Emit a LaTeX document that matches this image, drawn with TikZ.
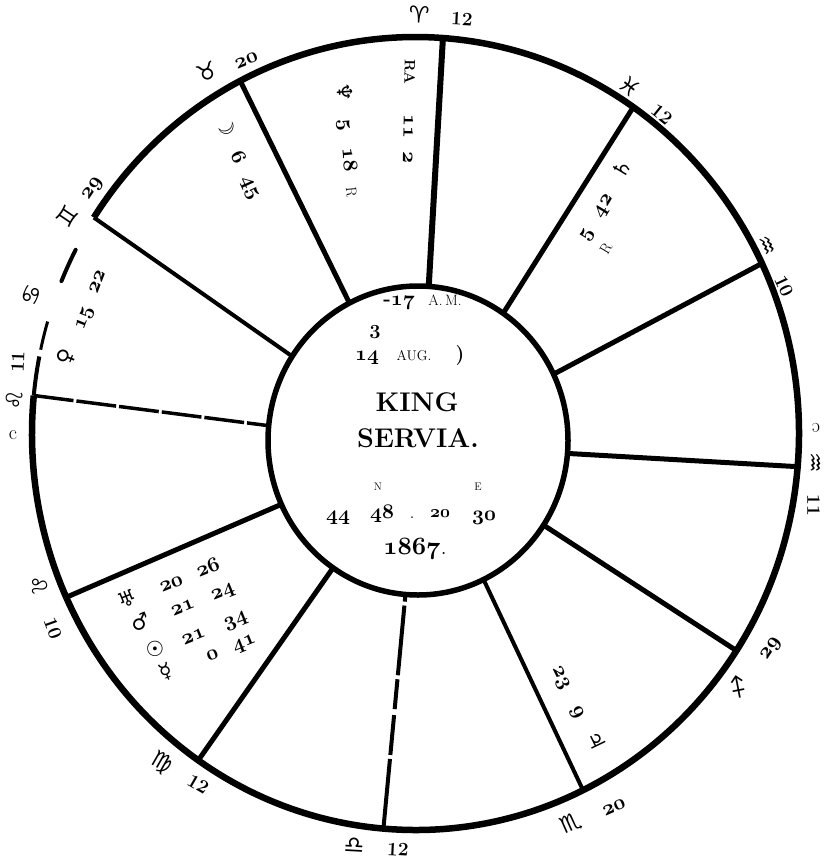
\documentclass[tikz,border=0pt]{standalone}
\usepackage{fontspec}
\newfontfamily\sym{DejaVu Sans}
\usetikzlibrary{calc}
\newcommand\osn[1]{{\usefont{OML}{cmm}{b}{it}#1}}
\newcommand\mk[1]{\makebox[0pt][c]{#1}}
\newcommand\zg[1]{{\sym\fontsize{23}{23}\selectfont #1}}
\newcommand\pgl[1]{{\sym\fontsize{21}{21}\selectfont #1}}
\newcommand\lnum[1]{{\bfseries\fontsize{19}{19}\selectfont #1}}
\newcommand\onum[1]{{\fontsize{20.74}{21}\selectfont\osn{#1}}}
\newcommand\smr[1]{{\fontsize{15}{15}\selectfont #1}}
\tikzset{
  ring/.style={line width=6.5pt},
  innerring/.style={line width=5.5pt},
  spoke/.style={line width=5pt},
  thinspoke/.style={line width=4pt},
  lab/.style={inner sep=0pt},
  big/.style={inner sep=0pt, font=\bfseries\fontsize{27}{27}\selectfont},
}
\begin{document}
\begin{tikzpicture}[x=1pt,y=-1pt]
\useasboundingbox (0,0) rectangle (826,861);
\coordinate (O) at (415.5,433.5);
\coordinate (I) at (418,440.5);
\foreach \n/\a in {1/85.9,2/117.2,3/147.0,4/174.5,5/204.4,6/235.5,7/265.2,8/295.9,9/326.8,10/355.2,11/25.4,12/55.4}{
  \coordinate (o\n) at ($(O)+(\a:383.5pt and 396.5pt)$);
  \coordinate (i\n) at ($(I)+(\a:150pt and 154.5pt)$);
}
% outer ring (broken between cusps 3 and 4)
\draw[ring] (o4) arc[start angle=174.5, end angle=507, x radius=383.5pt, y radius=396.5pt];
\coordinate (b1) at ($(O)+(152.4:383.5pt and 396.5pt)$);
\coordinate (b2) at ($(O)+(163.6:383.5pt and 396.5pt)$);
\coordinate (b3) at ($(O)+(168.8:383.5pt and 396.5pt)$);
\draw[line width=4pt, line cap=round] (b1) arc[start angle=152.4, end angle=157.4, x radius=383.5pt, y radius=396.5pt];
\draw[line width=3pt] (b2) arc[start angle=163.6, end angle=167.8, x radius=383.5pt, y radius=396.5pt];
\draw[line width=4pt] (b3) arc[start angle=168.8, end angle=174.5, x radius=383.5pt, y radius=396.5pt];
% inner ring
\draw[innerring] (I) ellipse[x radius=150pt, y radius=154.5pt];
% spokes
\draw[line width=6pt] (i1) -- (o1);
\draw[spoke] (i2) -- (o2);
\draw[thinspoke] (i3) -- (o3);
\draw[line width=3.5pt, dash pattern=on 40pt off 3pt] (o4) -- (i4);
\draw[spoke] (i5) -- (o5);
\draw[spoke] (i6) -- (o6);
\draw[thinspoke, dash pattern=on 70pt off 4pt on 40pt off 6pt on 30pt off 4pt] (o7) -- (i7);
\draw[thinspoke] (i8) -- (o8);
\draw[spoke] (i9) -- (o9);
\draw[spoke] (i10) -- (o10);
\draw[spoke] (i11) -- (o11);
\draw[spoke] (i12) -- (o12);

% cusp labels
\node[lab, rotate=-3] (c1) at (440.5,15.5) {\mk{\zg{♈}}\hspace{43pt}\mk{\lnum{12}}};
\node[lab, rotate=22] (c2) at (226,64.5) {\mk{\zg{♉}}\hspace{41pt}\mk{\onum{20}}};
\node[lab, rotate=56] (c3) at (79.5,202.5) {\mk{\zg{♊}}\hspace{37pt}\mk{\onum{29}}};
\node[lab, rotate=70] (c3b) at (32,295) {\zg{♋}};
\node[lab, font=\fontsize{20}{20}\selectfont] (c4c) at (13,435) {c};
\node[lab, rotate=88] (c4) at (15,381) {\mk{\zg{♌}}\hspace{38pt}\mk{\lnum{11}}};
\node[lab, rotate=-70] (c5) at (47,606.5) {\mk{\zg{♌}}\hspace{46pt}\mk{\lnum{10}}};
\node[lab, rotate=-30] (c6) at (180,773.5) {\mk{\zg{♍}}\hspace{42pt}\mk{\lnum{12}}};
\node[lab, rotate=-3] (c7) at (376,847) {\mk{\zg{♎}}\hspace{44pt}\mk{\lnum{12}}};
\node[lab, rotate=24] (c8) at (592,814.5) {\mk{\zg{♏}}\hspace{46pt}\mk{\onum{20}}};
\node[lab, rotate=56] (c9) at (754,668) {\mk{\zg{♐}}\hspace{50pt}\mk{\onum{29}}};
\node[lab, rotate=180, font=\fontsize{20}{20}\selectfont] (c10c) at (816,428) {c};
\node[lab, rotate=-90] (c10) at (814,484) {\mk{\zg{♒}}\hspace{42pt}\mk{\lnum{11}}};
\node[lab, rotate=-65] (c11) at (775,266) {\mk{\zg{♒}}\hspace{44pt}\mk{\lnum{10}}};
\node[lab, rotate=-39] (c12) at (646.5,99.5) {\mk{\zg{♓}}\hspace{43pt}\mk{\lnum{12}}};

% planets
\node[lab, rotate=-65] (moon) at (238,157.5) {\mk{\pgl{☽}}\hspace{32pt}\mk{\onum{6}}\hspace{33pt}\mk{\onum{45}}};
\node[lab, rotate=-85] (nept) at (347.5,142) {\mk{\pgl{♆}}\hspace{33pt}\mk{\onum{5}}\hspace{35pt}\mk{\onum{18}}\hspace{32pt}\mk{\smr{R}}};
\node[lab, rotate=-91] (ra) at (409,115) {\mk{\smr{\bfseries RA}}\hspace{55pt}\mk{\onum{11}}\hspace{31pt}\mk{\onum{2}}};
\node[lab, rotate=59] (sat) at (604,201.5) {\mk{\onum{5}}\hspace{33pt}\mk{\onum{42}}\hspace{41pt}\mk{\pgl{♄}}};
\node[lab, rotate=59] (satR) at (606,249) {\smr{R}};
\node[lab, rotate=69] (ven) at (81.5,319.5) {\mk{\pgl{♀}}\hspace{43pt}\mk{\onum{15}}\hspace{38pt}\mk{\onum{22}}};
\node[lab, rotate=-64] (jup) at (578.5,709.5) {\mk{\onum{23}}\hspace{38pt}\mk{\onum{9}}\hspace{34pt}\mk{\pgl{♃}}};
\node[lab, rotate=22] (ura) at (167.5,582.5) {\mk{\pgl{♅}}\hspace{46pt}\mk{\onum{20}}\hspace{40pt}\mk{\onum{26}}};
\node[lab, rotate=22] (mar) at (181.5,607) {\mk{\pgl{♂}}\hspace{45pt}\mk{\onum{21}}\hspace{43pt}\mk{\onum{24}}};
\node[lab, rotate=22] (sun) at (195.5,634.5) {\mk{\pgl{☉}}\hspace{40pt}\mk{\onum{21}}\hspace{45pt}\mk{\onum{34}}};
\node[lab, rotate=22] (mer) at (205,657) {\mk{\pgl{☿}}\hspace{49pt}\mk{\onum{0}}\hspace{34pt}\mk{\onum{41}}};

% centre
\node[lab] (time) at (422,302.5) {\mk{{\bfseries\fontsize{20}{20}\selectfont -}\onum{17}}\hspace{46pt}\mk{\smr{A.\,M.}}};
\node[lab, font=\bfseries\fontsize{20}{20}\selectfont] (tC) at (375,332) {3};
\node[lab] (date) at (413.5,356) {\mk{\onum{14}}\hspace{47pt}\mk{\fontsize{14}{14}\selectfont AUG.}\hspace{46pt}\mk{\bfseries\fontsize{20}{20}\selectfont )}};
\node[big] (king) at (417,402) {KING};
\node[big] (servia) at (418,438) {SERVIA.};
\node[lab, font=\fontsize{11}{11}\selectfont] (latN) at (378,487) {N};
\node[lab, font=\fontsize{11}{11}\selectfont] (lonE) at (478,487) {E};
\node[lab] (la1) at (338,518) {\onum{44}};
\node[lab] (la2) at (382,514) {\onum{48}};
\node[lab, font=\fontsize{20}{20}\selectfont] (sep) at (412,518) {.};
\node[lab] (lo1) at (440,514) {{\fontsize{17.28}{18}\selectfont\osn{20}}};
\node[lab] (lo2) at (484,518) {\onum{30}};
\node[lab, font=\fontsize{24.88}{25}\selectfont] (yr) at (415,549) {\osn{1867}.};
\end{tikzpicture}
\end{document}
